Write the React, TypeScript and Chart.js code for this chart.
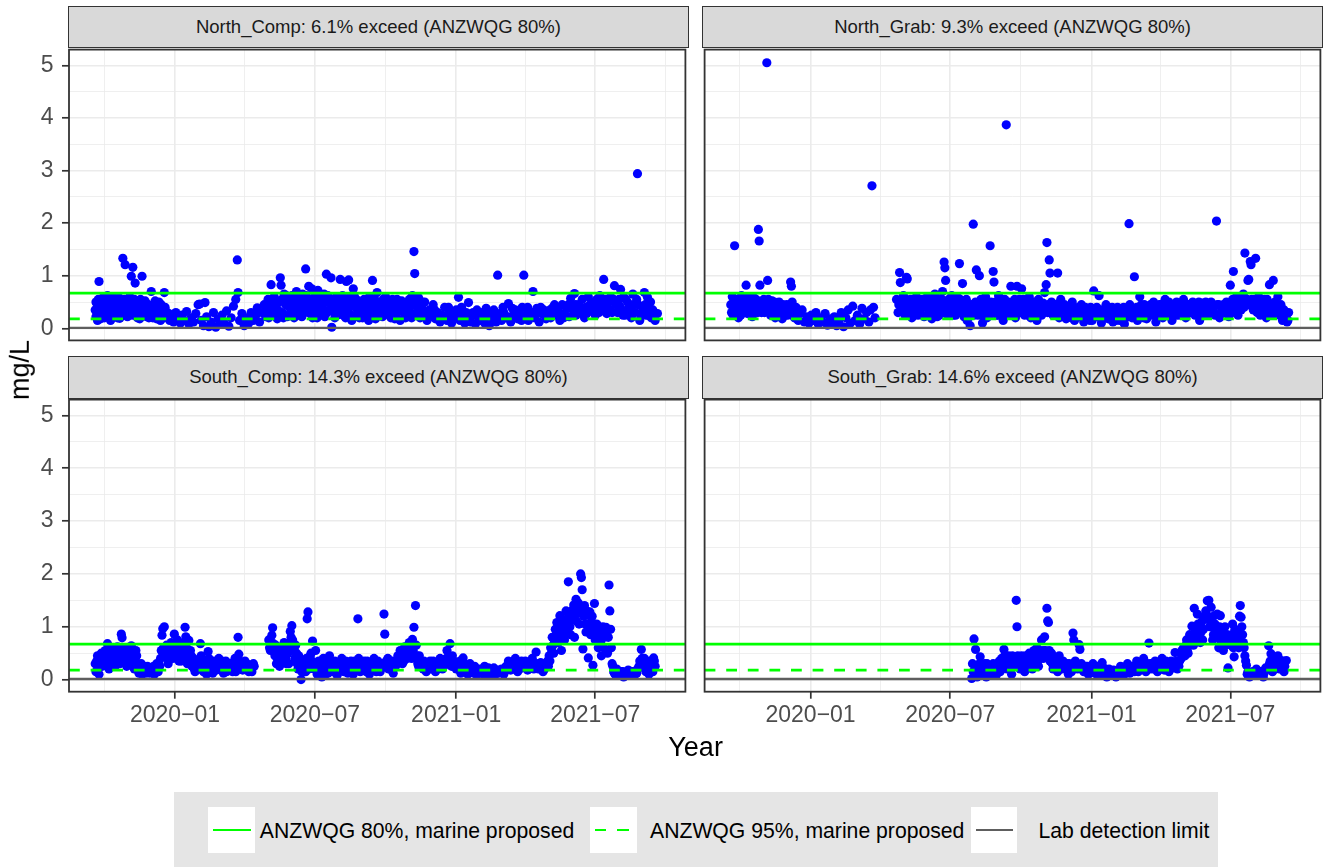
import React, { useEffect, useRef } from "react";
import { Chart, registerables } from "chart.js";

Chart.register(...registerables);

const FONT = '"Liberation Sans", Arial, Helvetica, sans-serif';

// ---------------- DATA ----------------
const panelTitles = [
  "North_Comp: 6.1% exceed (ANZWQG 80%)",
  "North_Grab: 9.3% exceed (ANZWQG 80%)",
  "South_Comp: 14.3% exceed (ANZWQG 80%)",
  "South_Grab: 14.6% exceed (ANZWQG 80%)",
];

const guideLabels = ["ANZWQG 80%, marine proposed", "ANZWQG 95%, marine proposed", "Lab detection limit"];
const guideValues = [0.67, 0.18, 0.01];

const xAxisRange = ["2019-08-15T21:36:00Z", "2021-10-26T09:36:00Z"];
const xMajorTicks = ["2020-01-01", "2020-07-01", "2021-01-01", "2021-07-01"];
const xMajorLabels = ["2020\u221201", "2020\u221207", "2021\u221201", "2021\u221207"];
const xMinorTicks = ["2019-10-01", "2020-04-01", "2020-10-01", "2021-04-01", "2021-10-01"];
const yAxisRange = [-0.23, 5.3];
const yMajorTicks = [0, 1, 2, 3, 4, 5];
const yMajorLabels = ["0", "1", "2", "3", "4", "5"];
const yMinorTicks = [0.5, 1.5, 2.5, 3.5, 4.5];

const northCompObs: [string, number][] = [
  ["2019-09-19",0.35],["2019-09-20",0.22],["2019-09-21",0.48],["2019-09-22",0.30],["2019-09-23",0.55],["2019-09-24",0.89],["2019-09-25",0.40],["2019-09-26",0.18],["2019-09-27",0.27],["2019-09-29",0.58],
  ["2019-10-01",0.20],["2019-10-03",0.45],["2019-10-05",0.62],["2019-10-07",0.33],["2019-10-09",0.15],["2019-10-11",0.50],["2019-10-13",0.38],["2019-10-15",0.26],["2019-10-17",0.55],["2019-10-19",0.42],["2019-10-21",0.19],["2019-10-23",0.35],["2019-10-25",1.33],["2019-10-26",0.48],["2019-10-28",1.21],["2019-10-29",0.30],["2019-10-31",0.22],
  ["2019-11-02",0.52],["2019-11-04",0.36],["2019-11-05",0.99],["2019-11-07",1.16],["2019-11-08",0.44],["2019-11-10",0.86],["2019-11-12",0.28],["2019-11-14",0.50],["2019-11-16",0.18],["2019-11-19",0.99],["2019-11-20",0.40],["2019-11-22",0.25],["2019-11-24",0.47],["2019-11-26",0.33],["2019-11-28",0.20],
  ["2019-12-01",0.70],["2019-12-02",0.42],["2019-12-04",0.30],["2019-12-06",0.52],["2019-12-08",0.18],["2019-12-10",0.38],["2019-12-12",0.25],["2019-12-14",0.45],["2019-12-16",0.35],["2019-12-18",0.68],["2019-12-20",0.22],["2019-12-22",0.30],["2019-12-25",0.15],["2019-12-28",0.26],["2019-12-30",0.12],
  ["2020-01-02",0.30],["2020-01-05",0.18],["2020-01-08",0.10],["2020-01-10",0.25],["2020-01-13",0.15],["2020-01-16",0.32],["2020-01-19",0.08],["2020-01-22",0.20],["2020-01-25",0.12],["2020-01-28",0.28],["2020-01-31",0.45],
  ["2020-02-02",0.46],["2020-02-04",0.15],["2020-02-07",0.05],["2020-02-09",0.49],["2020-02-11",0.22],["2020-02-14",0.03],["2020-02-17",0.12],["2020-02-20",0.30],["2020-02-23",0.02],["2020-02-26",0.18],["2020-02-28",0.08],
  ["2020-03-02",0.25],["2020-03-05",0.10],["2020-03-08",0.33],["2020-03-11",0.04],["2020-03-14",0.20],["2020-03-17",0.42],["2020-03-20",0.55],["2020-03-22",1.30],["2020-03-23",0.68],["2020-03-25",0.15],["2020-03-28",0.28],["2020-03-31",0.05],
  ["2020-04-03",0.20],["2020-04-06",0.10],["2020-04-09",0.30],["2020-04-12",0.15],["2020-04-15",0.25],["2020-04-17",0.39],["2020-04-20",0.12],["2020-04-23",0.30],["2020-04-26",0.45],["2020-04-28",0.22],
  ["2020-05-01",0.55],["2020-05-03",0.35],["2020-05-05",0.83],["2020-05-07",0.25],["2020-05-09",0.60],["2020-05-11",0.40],["2020-05-13",0.18],["2020-05-15",0.50],["2020-05-17",0.96],["2020-05-18",0.82],["2020-05-20",0.30],["2020-05-22",0.65],["2020-05-24",0.45],["2020-05-26",0.22],["2020-05-28",0.55],["2020-05-30",0.38],
  ["2020-06-01",0.62],["2020-06-03",0.30],["2020-06-05",0.48],["2020-06-07",0.70],["2020-06-09",0.25],["2020-06-11",0.55],["2020-06-13",0.40],["2020-06-15",0.65],["2020-06-17",0.35],["2020-06-19",1.13],["2020-06-21",0.50],["2020-06-23",0.80],["2020-06-25",0.28],["2020-06-27",0.75],["2020-06-29",0.45],
  ["2020-07-01",0.60],["2020-07-03",0.35],["2020-07-05",0.72],["2020-07-07",0.25],["2020-07-09",0.55],["2020-07-11",0.40],["2020-07-13",0.65],["2020-07-16",1.03],["2020-07-17",0.30],["2020-07-19",0.50],["2020-07-22",0.96],["2020-07-23",0.02],["2020-07-25",0.45],["2020-07-27",0.20],["2020-07-29",0.60],
  ["2020-08-01",0.35],["2020-08-03",0.93],["2020-08-05",0.55],["2020-08-07",0.25],["2020-08-09",0.45],["2020-08-11",0.89],["2020-08-13",0.30],["2020-08-14",0.92],["2020-08-16",0.60],["2020-08-18",0.15],["2020-08-20",0.75],["2020-08-21",0.63],["2020-08-23",0.40],["2020-08-25",0.28],["2020-08-27",0.50],["2020-08-30",0.35],
  ["2020-09-01",0.20],["2020-09-03",0.55],["2020-09-05",0.40],["2020-09-08",0.25],["2020-09-10",0.60],["2020-09-12",0.35],["2020-09-14",0.91],["2020-09-16",0.45],["2020-09-18",0.18],["2020-09-20",0.68],["2020-09-22",0.30],["2020-09-24",0.50],["2020-09-27",0.22],["2020-09-29",0.42],
  ["2020-10-01",0.60],["2020-10-03",0.30],["2020-10-05",0.48],["2020-10-08",0.20],["2020-10-10",0.55],["2020-10-12",0.35],["2020-10-15",0.25],["2020-10-17",0.45],["2020-10-20",0.15],["2020-10-22",0.52],["2020-10-25",0.30],["2020-10-28",0.40],["2020-10-30",0.22],
  ["2020-11-01",0.55],["2020-11-03",0.28],["2020-11-05",0.62],["2020-11-07",1.46],["2020-11-08",1.04],["2020-11-09",0.45],["2020-11-11",0.30],["2020-11-13",0.58],["2020-11-15",0.20],["2020-11-17",0.40],["2020-11-19",0.25],["2020-11-21",0.50],["2020-11-24",0.15],["2020-11-27",0.35],["2020-11-30",0.22],
  ["2020-12-02",0.45],["2020-12-05",0.18],["2020-12-08",0.30],["2020-12-11",0.12],["2020-12-14",0.25],["2020-12-17",0.40],["2020-12-20",0.15],["2020-12-23",0.30],["2020-12-26",0.10],["2020-12-29",0.22],
  ["2021-01-01",0.35],["2021-01-04",0.59],["2021-01-06",0.15],["2021-01-09",0.28],["2021-01-12",0.10],["2021-01-15",0.20],["2021-01-17",0.49],["2021-01-20",0.12],["2021-01-23",0.30],["2021-01-26",0.08],["2021-01-29",0.22],
  ["2021-02-01",0.15],["2021-02-04",0.30],["2021-02-07",0.10],["2021-02-10",0.25],["2021-02-13",0.05],["2021-02-16",0.20],["2021-02-19",0.35],["2021-02-22",0.12],["2021-02-24",1.01],["2021-02-26",0.28],
  ["2021-03-01",0.15],["2021-03-04",0.30],["2021-03-07",0.20],["2021-03-10",0.47],["2021-03-13",0.12],["2021-03-16",0.25],["2021-03-19",0.35],["2021-03-22",0.18],["2021-03-25",0.28],["2021-03-28",0.40],["2021-03-30",1.01],
  ["2021-04-02",0.25],["2021-04-05",0.15],["2021-04-11",0.70],["2021-04-10",0.30],["2021-04-13",0.20],["2021-04-16",0.38],["2021-04-19",0.12],["2021-04-22",0.28],["2021-04-25",0.35],["2021-04-28",0.18],
  ["2021-05-01",0.30],["2021-05-04",0.20],["2021-05-07",0.40],["2021-05-10",0.25],["2021-05-13",0.35],["2021-05-16",0.15],["2021-05-19",0.45],["2021-05-22",0.28],["2021-05-25",0.38],["2021-05-28",0.22],["2021-05-30",0.57],
  ["2021-06-02",0.35],["2021-06-04",0.66],["2021-06-06",0.25],["2021-06-09",0.45],["2021-06-11",0.30],["2021-06-14",0.55],["2021-06-17",0.20],["2021-06-19",0.40],["2021-06-22",0.60],["2021-06-25",0.33],["2021-06-28",0.50],
  ["2021-07-01",0.25],["2021-07-04",0.45],["2021-07-07",0.62],["2021-07-10",0.35],["2021-07-12",0.93],["2021-07-14",0.55],["2021-07-16",0.28],["2021-07-18",0.48],["2021-07-21",0.60],["2021-07-23",0.30],["2021-07-26",0.81],["2021-07-28",0.45],
  ["2021-08-01",0.55],["2021-08-03",0.74],["2021-08-05",0.35],["2021-08-07",0.60],["2021-08-09",0.25],["2021-08-12",0.50],["2021-08-14",0.40],["2021-08-17",0.20],["2021-08-19",0.65],["2021-08-22",0.30],["2021-08-25",2.94],["2021-08-26",0.45],["2021-08-28",0.15],
  ["2021-09-01",0.35],["2021-09-03",0.68],["2021-09-05",0.25],["2021-09-07",0.59],["2021-09-09",0.40],["2021-09-12",0.20],["2021-09-14",0.35],["2021-09-17",0.15],["2021-09-20",0.28],
  ["2019-09-20",0.50],["2019-09-22",0.15],["2019-09-28",0.42],["2019-09-30",0.30],["2019-10-02",0.55],["2019-10-04",0.28],["2019-10-06",0.40],["2019-10-08",0.52],["2019-10-10",0.25],["2019-10-12",0.60],["2019-10-14",0.45],["2019-10-16",0.30],["2019-10-18",0.20],["2019-10-20",0.58],["2019-10-22",0.40],["2019-10-24",0.25],["2019-10-27",0.55],["2019-10-30",0.42],
  ["2019-11-01",0.30],["2019-11-03",0.60],["2019-11-06",0.25],["2019-11-09",0.55],["2019-11-11",0.40],["2019-11-13",0.20],["2019-11-15",0.35],["2019-11-17",0.55],["2019-11-21",0.30],["2019-11-23",0.52],["2019-11-25",0.22],["2019-11-27",0.45],["2019-11-29",0.35],
  ["2019-12-03",0.20],["2019-12-05",0.45],["2019-12-07",0.35],["2019-12-09",0.25],["2019-12-11",0.50],["2019-12-13",0.15],["2019-12-15",0.30],["2019-12-17",0.20],["2019-12-19",0.40],
  ["2020-04-29",0.35],["2020-05-02",0.20],["2020-05-04",0.45],["2020-05-06",0.30],["2020-05-08",0.50],["2020-05-12",0.25],["2020-05-14",0.35],["2020-05-19",0.55],["2020-05-21",0.20],["2020-05-25",0.62],["2020-05-29",0.25],
  ["2020-06-02",0.45],["2020-06-04",0.20],["2020-06-08",0.55],["2020-06-10",0.35],["2020-06-12",0.62],["2020-06-14",0.22],["2020-06-16",0.50],["2020-06-18",0.30],["2020-06-20",0.62],["2020-06-22",0.40],["2020-06-24",0.55],["2020-06-26",0.35],["2020-06-28",0.20],["2020-06-30",0.50],
  ["2020-07-02",0.45],["2020-07-04",0.20],["2020-07-06",0.50],["2020-07-08",0.62],["2020-07-10",0.30],["2020-07-12",0.48],["2020-07-14",0.22],["2020-07-18",0.62],["2020-07-20",0.35],["2020-07-24",0.55],["2020-07-26",0.30],["2020-07-28",0.45],["2020-07-30",0.25],
  ["2020-08-02",0.50],["2020-08-04",0.30],["2020-08-06",0.62],["2020-08-08",0.40],["2020-08-10",0.20],["2020-08-12",0.55],["2020-08-15",0.40],["2020-08-17",0.25],["2020-08-19",0.50],["2020-08-22",0.22],["2020-08-24",0.55],["2020-08-26",0.40],["2020-08-28",0.20],
  ["2020-09-02",0.45],["2020-09-04",0.30],["2020-09-07",0.50],["2020-09-09",0.15],["2020-09-11",0.45],["2020-09-15",0.25],["2020-09-17",0.55],["2020-09-21",0.40],["2020-09-25",0.35],["2020-09-28",0.55],
  ["2020-10-02",0.40],["2020-10-06",0.25],["2020-10-09",0.42],["2020-10-13",0.18],["2020-10-16",0.55],["2020-10-19",0.35],["2020-10-24",0.45],["2020-10-27",0.20],
  ["2020-11-02",0.40],["2020-11-04",0.20],["2020-11-10",0.55],["2020-11-14",0.35],["2020-11-18",0.50],["2020-11-22",0.30],
  ["2020-12-04",0.35],["2020-12-10",0.25],["2020-12-16",0.20],["2020-12-22",0.40],["2020-12-28",0.30],
  ["2021-01-03",0.20],["2021-01-08",0.40],["2021-01-14",0.30],["2021-01-22",0.25],["2021-01-28",0.35],["2021-02-03",0.20],["2021-02-09",0.38],["2021-02-15",0.30],["2021-02-21",0.22],
  ["2021-03-03",0.40],["2021-03-09",0.22],["2021-03-15",0.38],["2021-03-21",0.30],["2021-03-27",0.15],["2021-04-04",0.40],["2021-04-09",0.25],["2021-04-15",0.30],["2021-04-21",0.40],["2021-04-27",0.25],
  ["2021-05-03",0.35],["2021-05-09",0.45],["2021-05-15",0.30],["2021-05-21",0.20],["2021-05-27",0.45],
  ["2021-06-05",0.45],["2021-06-12",0.40],["2021-06-20",0.28],["2021-06-24",0.45],["2021-06-29",0.38],["2021-07-03",0.55],["2021-07-06",0.30],["2021-07-09",0.50],["2021-07-15",0.40],["2021-07-20",0.35],["2021-07-25",0.55],["2021-07-30",0.30],
  ["2021-08-02",0.42],["2021-08-06",0.25],["2021-08-10",0.55],["2021-08-15",0.30],["2021-08-20",0.45],["2021-08-24",0.55],["2021-08-30",0.25],["2021-09-04",0.45],["2021-09-08",0.25],["2021-09-11",0.50],["2021-09-16",0.30],
];

const northGrabObs: [string, number][] = [
  ["2019-09-19",0.45],["2019-09-20",0.30],["2019-09-21",0.60],["2019-09-22",0.25],["2019-09-23",0.50],["2019-09-24",1.57],["2019-09-25",0.38],["2019-09-27",0.55],["2019-09-29",0.20],
  ["2019-10-01",0.45],["2019-10-03",0.62],["2019-10-05",0.30],["2019-10-07",0.50],["2019-10-09",0.82],["2019-10-11",0.28],["2019-10-13",0.55],["2019-10-15",0.40],["2019-10-17",0.22],["2019-10-19",0.58],["2019-10-21",0.35],["2019-10-23",0.48],["2019-10-25",1.88],["2019-10-26",1.66],["2019-10-27",0.82],["2019-10-29",0.30],
  ["2019-11-01",0.55],["2019-11-03",0.38],["2019-11-05",5.05],["2019-11-06",0.91],["2019-11-08",0.45],["2019-11-10",0.25],["2019-11-12",0.52],["2019-11-14",0.35],["2019-11-16",0.20],["2019-11-18",0.48],["2019-11-20",0.30],["2019-11-22",0.42],["2019-11-25",0.18],["2019-11-27",0.38],["2019-11-29",0.25],
  ["2019-12-01",0.45],["2019-12-03",0.30],["2019-12-06",0.88],["2019-12-07",0.80],["2019-12-09",0.35],["2019-12-11",0.20],["2019-12-13",0.40],["2019-12-16",0.15],["2019-12-18",0.28],["2019-12-21",0.35],["2019-12-24",0.12],["2019-12-27",0.22],["2019-12-30",0.10],
  ["2020-01-02",0.25],["2020-01-05",0.15],["2020-01-08",0.30],["2020-01-11",0.08],["2020-01-14",0.20],["2020-01-17",0.12],["2020-01-20",0.28],["2020-01-23",0.06],["2020-01-26",0.18],["2020-01-29",0.10],
  ["2020-02-01",0.22],["2020-02-04",0.05],["2020-02-07",0.15],["2020-02-10",0.30],["2020-02-13",0.03],["2020-02-16",0.20],["2020-02-19",0.35],["2020-02-22",0.10],["2020-02-25",0.42],["2020-02-28",0.15],
  ["2020-03-02",0.25],["2020-03-05",0.08],["2020-03-08",0.38],["2020-03-11",0.18],["2020-03-14",0.30],["2020-03-17",0.12],["2020-03-19",0.35],["2020-03-21",2.71],["2020-03-23",0.40],["2020-03-25",0.20],
  ["2020-04-22",0.55],["2020-04-24",0.30],["2020-04-26",1.06],["2020-04-27",0.87],["2020-04-29",0.45],
  ["2020-05-01",0.62],["2020-05-03",0.25],["2020-05-05",0.97],["2020-05-06",0.94],["2020-05-08",0.40],["2020-05-10",0.55],["2020-05-12",0.20],["2020-05-14",0.48],["2020-05-16",0.32],["2020-05-18",0.60],["2020-05-20",0.25],["2020-05-22",0.45],["2020-05-24",0.38],["2020-05-26",0.55],["2020-05-28",0.22],["2020-05-30",0.42],
  ["2020-06-01",0.60],["2020-06-03",0.30],["2020-06-05",0.50],["2020-06-07",0.18],["2020-06-09",0.45],["2020-06-11",0.65],["2020-06-13",0.35],["2020-06-15",0.55],["2020-06-17",0.25],["2020-06-19",0.48],["2020-06-21",0.70],["2020-06-23",1.26],["2020-06-24",1.15],["2020-06-25",0.91],["2020-06-27",0.40],["2020-06-29",0.55],
  ["2020-07-01",0.30],["2020-07-03",0.62],["2020-07-05",0.25],["2020-07-07",0.45],["2020-07-09",0.35],["2020-07-11",0.58],["2020-07-13",1.23],["2020-07-15",0.40],["2020-07-17",0.85],["2020-07-19",0.22],["2020-07-21",0.50],["2020-07-23",0.15],["2020-07-25",0.40],["2020-07-27",0.05],["2020-07-29",0.30],["2020-07-31",1.98],
  ["2020-08-02",0.45],["2020-08-04",1.11],["2020-08-06",0.25],["2020-08-08",1.00],["2020-08-10",0.55],["2020-08-12",0.10],["2020-08-14",0.38],["2020-08-16",0.60],["2020-08-18",0.20],["2020-08-20",0.45],["2020-08-22",1.57],["2020-08-24",0.35],["2020-08-26",1.08],["2020-08-27",0.88],["2020-08-29",0.50],["2020-08-31",0.25],
  ["2020-09-02",0.62],["2020-09-04",0.30],["2020-09-06",0.48],["2020-09-08",0.15],["2020-09-10",0.55],["2020-09-12",3.87],["2020-09-14",0.40],["2020-09-16",0.25],["2020-09-18",0.80],["2020-09-20",0.50],["2020-09-22",0.35],["2020-09-24",0.20],["2020-09-26",0.80],["2020-09-28",0.45],["2020-09-30",0.30],
  ["2020-10-02",0.75],["2020-10-04",0.55],["2020-10-06",0.25],["2020-10-08",0.45],["2020-10-10",0.35],["2020-10-12",0.60],["2020-10-14",0.20],["2020-10-16",0.50],["2020-10-18",0.30],["2020-10-20",0.42],["2020-10-22",0.15],["2020-10-24",0.55],["2020-10-26",0.35],["2020-10-28",0.25],["2020-10-30",0.48],
  ["2020-11-01",0.68],["2020-11-03",0.83],["2020-11-04",1.63],["2020-11-05",0.30],["2020-11-07",1.30],["2020-11-08",1.05],["2020-11-10",0.50],["2020-11-12",0.25],["2020-11-14",0.45],["2020-11-16",0.35],["2020-11-18",1.05],["2020-11-20",0.20],["2020-11-22",0.55],["2020-11-24",0.30],["2020-11-27",0.45],["2020-11-29",0.18],
  ["2020-12-01",0.40],["2020-12-04",0.25],["2020-12-07",0.50],["2020-12-10",0.15],["2020-12-13",0.35],["2020-12-16",0.22],["2020-12-19",0.45],["2020-12-22",0.12],["2020-12-25",0.30],["2020-12-28",0.20],["2020-12-31",0.40],
  ["2021-01-02",0.15],["2021-01-04",0.71],["2021-01-06",0.35],["2021-01-09",0.22],["2021-01-11",0.62],["2021-01-14",0.10],["2021-01-17",0.30],["2021-01-20",0.45],["2021-01-23",0.18],["2021-01-26",0.35],["2021-01-29",0.12],
  ["2021-02-01",0.28],["2021-02-04",0.40],["2021-02-07",0.15],["2021-02-10",0.33],["2021-02-13",0.08],["2021-02-16",0.25],["2021-02-19",1.99],["2021-02-20",0.45],["2021-02-23",0.20],["2021-02-26",0.98],["2021-02-28",0.35],
  ["2021-03-02",0.15],["2021-03-05",0.60],["2021-03-08",0.30],["2021-03-11",0.45],["2021-03-14",0.18],["2021-03-17",0.38],["2021-03-20",0.25],["2021-03-23",0.50],["2021-03-26",0.12],["2021-03-29",0.35],
  ["2021-04-01",0.45],["2021-04-04",0.20],["2021-04-07",0.55],["2021-04-10",0.30],["2021-04-13",0.42],["2021-04-16",0.15],["2021-04-19",0.35],["2021-04-22",0.50],["2021-04-25",0.25],["2021-04-28",0.40],
  ["2021-05-01",0.55],["2021-05-04",0.20],["2021-05-07",0.45],["2021-05-10",0.30],["2021-05-13",0.50],["2021-05-16",0.25],["2021-05-19",0.40],["2021-05-22",0.15],["2021-05-25",0.48],["2021-05-28",0.30],["2021-05-31",0.45],
  ["2021-06-03",0.25],["2021-06-06",0.50],["2021-06-09",0.35],["2021-06-13",2.04],["2021-06-14",0.45],["2021-06-17",0.20],["2021-06-20",0.40],["2021-06-23",0.30],["2021-06-26",0.50],["2021-06-29",0.22],
  ["2021-07-01",0.82],["2021-07-03",0.45],["2021-07-05",1.08],["2021-07-07",0.30],["2021-07-09",0.60],["2021-07-11",0.25],["2021-07-13",0.50],["2021-07-15",0.35],["2021-07-18",0.65],["2021-07-20",1.43],["2021-07-22",0.45],["2021-07-24",0.91],["2021-07-25",0.93],["2021-07-27",1.27],["2021-07-28",1.21],["2021-07-30",0.40],
  ["2021-08-01",0.55],["2021-08-03",1.33],["2021-08-05",0.30],["2021-08-07",0.60],["2021-08-09",0.25],["2021-08-11",0.45],["2021-08-13",0.35],["2021-08-15",0.55],["2021-08-17",0.20],["2021-08-19",0.40],["2021-08-21",0.83],["2021-08-24",0.30],["2021-08-26",0.91],["2021-08-28",0.50],
  ["2021-09-01",0.60],["2021-09-03",0.25],["2021-09-05",0.45],["2021-09-07",0.15],["2021-09-09",0.35],["2021-09-11",0.20],["2021-09-13",0.12],["2021-09-15",0.30],
  ["2019-09-26",0.45],["2019-09-28",0.35],["2019-09-30",0.55],["2019-10-02",0.25],["2019-10-04",0.48],["2019-10-06",0.55],["2019-10-08",0.35],["2019-10-10",0.45],["2019-10-12",0.60],["2019-10-14",0.30],["2019-10-16",0.50],["2019-10-18",0.35],["2019-10-20",0.45],["2019-10-22",0.55],["2019-10-24",0.30],["2019-10-28",0.50],["2019-10-30",0.40],
  ["2019-11-02",0.30],["2019-11-04",0.50],["2019-11-07",0.55],["2019-11-09",0.35],["2019-11-11",0.45],["2019-11-13",0.25],["2019-11-15",0.50],["2019-11-17",0.35],["2019-11-19",0.25],["2019-11-21",0.50],["2019-11-23",0.30],["2019-11-26",0.45],["2019-11-28",0.30],
  ["2019-12-02",0.25],["2019-12-04",0.40],["2019-12-08",0.50],["2019-12-10",0.30],["2019-12-12",0.20],["2019-12-14",0.30],
  ["2020-04-25",0.45],["2020-04-28",0.35],["2020-04-30",0.50],["2020-05-02",0.40],["2020-05-04",0.55],["2020-05-07",0.30],["2020-05-09",0.50],["2020-05-11",0.35],["2020-05-13",0.55],["2020-05-15",0.25],["2020-05-17",0.45],["2020-05-19",0.35],["2020-05-21",0.55],["2020-05-23",0.30],["2020-05-25",0.50],["2020-05-27",0.40],["2020-05-29",0.55],
  ["2020-06-02",0.45],["2020-06-04",0.25],["2020-06-06",0.55],["2020-06-08",0.35],["2020-06-10",0.30],["2020-06-12",0.50],["2020-06-14",0.22],["2020-06-16",0.45],["2020-06-18",0.35],["2020-06-20",0.55],["2020-06-22",0.30],["2020-06-26",0.50],["2020-06-28",0.25],["2020-06-30",0.45],
  ["2020-07-02",0.50],["2020-07-04",0.35],["2020-07-06",0.55],["2020-07-08",0.25],["2020-07-10",0.45],["2020-07-12",0.30],["2020-07-14",0.55],["2020-07-16",0.30],["2020-07-18",0.45],["2020-07-20",0.35],["2020-07-22",0.55],["2020-07-24",0.30],["2020-07-26",0.22],["2020-07-28",0.45],["2020-07-30",0.35],
  ["2020-08-01",0.25],["2020-08-03",0.50],["2020-08-05",0.40],["2020-08-07",0.30],["2020-08-09",0.45],["2020-08-11",0.25],["2020-08-13",0.50],["2020-08-15",0.30],["2020-08-17",0.45],["2020-08-19",0.35],["2020-08-21",0.25],["2020-08-23",0.50],["2020-08-25",0.30],["2020-08-28",0.40],["2020-08-30",0.35],
  ["2020-09-01",0.25],["2020-09-03",0.45],["2020-09-05",0.35],["2020-09-07",0.55],["2020-09-09",0.30],["2020-09-11",0.40],["2020-09-13",0.25],["2020-09-15",0.50],["2020-09-17",0.35],["2020-09-19",0.30],["2020-09-21",0.45],["2020-09-23",0.55],["2020-09-25",0.30],["2020-09-27",0.40],["2020-09-29",0.55],
  ["2020-10-01",0.40],["2020-10-03",0.30],["2020-10-05",0.45],["2020-10-07",0.35],["2020-10-09",0.50],["2020-10-11",0.25],["2020-10-13",0.40],["2020-10-15",0.35],["2020-10-17",0.25],["2020-10-19",0.50],["2020-10-21",0.30],["2020-10-23",0.40],["2020-10-25",0.25],["2020-10-27",0.45],["2020-10-29",0.35],["2020-10-31",0.30],
  ["2020-11-02",0.40],["2020-11-06",0.45],["2020-11-09",0.35],["2020-11-11",0.45],["2020-11-13",0.35],["2020-11-15",0.25],["2020-11-17",0.45],["2020-11-19",0.35],["2020-11-21",0.30],["2020-11-23",0.40],["2020-11-26",0.25],["2020-11-28",0.35],
  ["2020-12-03",0.30],["2020-12-06",0.20],["2020-12-09",0.35],["2020-12-12",0.25],["2020-12-15",0.40],["2020-12-18",0.30],["2020-12-21",0.25],["2020-12-24",0.40],["2020-12-27",0.30],["2020-12-30",0.15],
  ["2021-01-05",0.30],["2021-01-08",0.40],["2021-01-12",0.25],["2021-01-15",0.35],["2021-01-19",0.25],["2021-01-22",0.30],["2021-01-25",0.20],["2021-01-28",0.40],
  ["2021-02-02",0.15],["2021-02-06",0.35],["2021-02-09",0.25],["2021-02-12",0.40],["2021-02-15",0.20],["2021-02-18",0.30],["2021-02-22",0.35],["2021-02-25",0.25],
  ["2021-03-01",0.40],["2021-03-04",0.25],["2021-03-07",0.45],["2021-03-10",0.20],["2021-03-13",0.35],["2021-03-16",0.25],["2021-03-19",0.45],["2021-03-22",0.30],["2021-03-25",0.40],["2021-03-28",0.22],["2021-03-31",0.45],
  ["2021-04-03",0.35],["2021-04-06",0.45],["2021-04-09",0.25],["2021-04-12",0.50],["2021-04-15",0.30],["2021-04-18",0.45],["2021-04-21",0.25],["2021-04-24",0.40],["2021-04-27",0.30],["2021-04-30",0.50],
  ["2021-05-03",0.35],["2021-05-06",0.30],["2021-05-09",0.45],["2021-05-12",0.35],["2021-05-15",0.45],["2021-05-18",0.30],["2021-05-21",0.50],["2021-05-24",0.35],["2021-05-27",0.25],["2021-05-30",0.50],
  ["2021-06-02",0.40],["2021-06-05",0.30],["2021-06-08",0.45],["2021-06-11",0.25],["2021-06-16",0.45],["2021-06-19",0.30],["2021-06-22",0.45],["2021-06-25",0.30],["2021-06-28",0.45],
  ["2021-07-02",0.30],["2021-07-04",0.55],["2021-07-06",0.40],["2021-07-08",0.50],["2021-07-10",0.35],["2021-07-12",0.55],["2021-07-14",0.45],["2021-07-16",0.55],["2021-07-19",0.40],["2021-07-23",0.55],["2021-07-26",0.45],["2021-07-29",0.55],["2021-07-31",0.35],
  ["2021-08-02",0.45],["2021-08-04",0.55],["2021-08-06",0.45],["2021-08-08",0.35],["2021-08-10",0.55],["2021-08-12",0.30],["2021-08-14",0.45],["2021-08-16",0.30],["2021-08-18",0.55],["2021-08-20",0.35],["2021-08-23",0.45],["2021-08-25",0.25],["2021-08-27",0.40],["2021-08-30",0.30],
  ["2021-09-02",0.40],["2021-09-04",0.30],["2021-09-06",0.25],["2021-09-08",0.35],["2021-09-10",0.25],["2021-09-12",0.20],["2021-09-14",0.15],
];

const southCompObs: [string, number][] = [
  ["2019-09-19",0.30],["2019-09-20",0.15],["2019-09-21",0.35],["2019-09-23",0.22],["2019-09-24",0.10],["2019-09-26",0.40],["2019-09-28",0.25],
  ["2019-10-01",0.45],["2019-10-03",0.30],["2019-10-05",0.68],["2019-10-07",0.20],["2019-10-09",0.50],["2019-10-11",0.35],["2019-10-13",0.58],["2019-10-15",0.25],["2019-10-17",0.45],["2019-10-19",0.55],["2019-10-21",0.30],["2019-10-23",0.86],["2019-10-24",0.79],["2019-10-26",0.40],["2019-10-28",0.60],["2019-10-30",0.25],
  ["2019-11-01",0.50],["2019-11-03",0.35],["2019-11-05",0.64],["2019-11-07",0.45],["2019-11-09",0.20],["2019-11-11",0.55],["2019-11-13",0.30],["2019-11-15",0.12],["2019-11-17",0.25],["2019-11-19",0.10],["2019-11-21",0.20],["2019-11-23",0.15],["2019-11-26",0.25],["2019-11-29",0.12],
  ["2019-12-02",0.20],["2019-12-05",0.10],["2019-12-08",0.30],["2019-12-10",0.15],["2019-12-12",0.25],["2019-12-14",0.55],["2019-12-15",0.84],["2019-12-16",0.96],["2019-12-18",1.00],["2019-12-19",0.45],["2019-12-21",0.65],["2019-12-23",0.30],["2019-12-25",0.50],["2019-12-27",0.70],["2019-12-29",0.40],["2019-12-31",0.86],
  ["2020-01-02",0.55],["2020-01-04",0.75],["2020-01-06",0.35],["2020-01-08",0.62],["2020-01-10",0.45],["2020-01-12",0.70],["2020-01-14",0.99],["2020-01-15",0.81],["2020-01-17",0.30],["2020-01-19",0.74],["2020-01-21",0.55],["2020-01-23",0.25],["2020-01-25",0.40],["2020-01-27",0.15],["2020-01-29",0.30],
  ["2020-02-01",0.20],["2020-02-03",0.68],["2020-02-05",0.35],["2020-02-07",0.15],["2020-02-09",0.28],["2020-02-11",0.10],["2020-02-13",0.53],["2020-02-15",0.22],["2020-02-17",0.35],["2020-02-19",0.12],["2020-02-21",0.30],["2020-02-24",0.18],["2020-02-27",0.40],
  ["2020-03-01",0.25],["2020-03-04",0.12],["2020-03-07",0.35],["2020-03-10",0.20],["2020-03-13",0.30],["2020-03-16",0.15],["2020-03-19",0.40],["2020-03-21",0.25],["2020-03-23",0.80],["2020-03-24",0.48],["2020-03-26",0.30],["2020-03-29",0.18],
  ["2020-04-01",0.35],["2020-04-04",0.20],["2020-04-07",0.28],["2020-04-10",0.15],["2020-04-13",0.25],
  ["2020-05-02",0.75],["2020-05-04",0.55],["2020-05-06",0.84],["2020-05-07",0.98],["2020-05-08",0.68],["2020-05-10",0.45],["2020-05-12",0.30],["2020-05-14",0.60],["2020-05-16",0.25],["2020-05-18",0.50],["2020-05-20",0.35],["2020-05-22",0.70],["2020-05-24",0.40],["2020-05-26",0.62],["2020-05-28",0.30],["2020-05-30",0.91],
  ["2020-06-01",1.02],["2020-06-02",0.75],["2020-06-04",0.55],["2020-06-06",0.65],["2020-06-08",0.30],["2020-06-10",0.45],["2020-06-12",0.25],["2020-06-13",0.00],["2020-06-15",0.20],["2020-06-17",0.35],["2020-06-19",0.15],["2020-06-21",1.15],["2020-06-22",1.28],["2020-06-24",0.30],["2020-06-26",0.50],["2020-06-28",0.73],["2020-06-30",0.20],
  ["2020-07-02",0.55],["2020-07-04",0.10],["2020-07-06",0.35],["2020-07-08",0.25],["2020-07-10",0.05],["2020-07-12",0.40],["2020-07-14",0.20],["2020-07-16",0.30],["2020-07-18",0.12],["2020-07-20",0.45],["2020-07-22",0.25],["2020-07-24",0.15],["2020-07-27",0.35],["2020-07-30",0.08],
  ["2020-08-02",0.25],["2020-08-05",0.40],["2020-08-08",0.15],["2020-08-11",0.30],["2020-08-14",0.20],["2020-08-17",0.35],["2020-08-20",0.10],["2020-08-23",0.28],["2020-08-26",1.15],["2020-08-27",0.40],["2020-08-29",0.15],
  ["2020-09-01",0.30],["2020-09-04",0.20],["2020-09-07",0.35],["2020-09-10",0.10],["2020-09-13",0.25],["2020-09-16",0.40],["2020-09-19",0.15],["2020-09-22",0.30],["2020-09-25",0.20],["2020-09-29",1.24],["2020-09-30",0.86],
  ["2020-10-02",0.35],["2020-10-05",0.20],["2020-10-08",0.30],["2020-10-11",0.12],["2020-10-14",0.25],["2020-10-17",0.45],["2020-10-20",0.55],["2020-10-23",0.30],["2020-10-26",0.62],["2020-10-29",0.40],
  ["2020-11-01",0.70],["2020-11-03",0.50],["2020-11-05",0.76],["2020-11-07",0.99],["2020-11-09",1.40],["2020-11-10",0.65],["2020-11-12",0.30],["2020-11-14",0.45],["2020-11-17",0.25],["2020-11-20",0.35],["2020-11-23",0.15],["2020-11-26",0.30],["2020-11-29",0.20],
  ["2020-12-02",0.35],["2020-12-05",0.15],["2020-12-08",0.28],["2020-12-11",0.40],["2020-12-14",0.20],["2020-12-17",0.30],["2020-12-20",0.55],["2020-12-22",0.40],["2020-12-24",0.68],["2020-12-26",0.25],["2020-12-29",0.35],
  ["2021-01-01",0.20],["2021-01-04",0.30],["2021-01-07",0.12],["2021-01-10",0.41],["2021-01-13",0.22],["2021-01-16",0.10],["2021-01-19",0.30],["2021-01-22",0.15],["2021-01-25",0.25],["2021-01-28",0.08],
  ["2021-02-01",0.20],["2021-02-04",0.12],["2021-02-07",0.25],["2021-02-10",0.08],["2021-02-13",0.18],["2021-02-16",0.10],["2021-02-19",0.22],["2021-02-22",0.15],["2021-02-25",0.12],
  ["2021-03-01",0.20],["2021-03-04",0.10],["2021-03-07",0.25],["2021-03-10",0.35],["2021-03-13",0.18],["2021-03-16",0.28],["2021-03-19",0.40],["2021-03-22",0.15],["2021-03-25",0.30],["2021-03-28",0.22],
  ["2021-04-01",0.35],["2021-04-04",0.18],["2021-04-07",0.28],["2021-04-10",0.40],["2021-04-13",0.25],["2021-04-15",0.52],["2021-04-18",0.20],["2021-04-21",0.32],["2021-04-24",0.15],["2021-04-27",0.25],["2021-04-30",0.35],
  ["2021-05-02",0.45],["2021-05-04",0.60],["2021-05-06",0.80],["2021-05-08",0.50],["2021-05-10",0.95],["2021-05-12",1.08],["2021-05-14",0.70],["2021-05-16",1.21],["2021-05-18",0.55],["2021-05-20",1.00],["2021-05-22",0.75],["2021-05-24",1.30],["2021-05-27",1.85],["2021-05-28",1.10],["2021-05-30",0.85],
  ["2021-06-01",1.19],["2021-06-03",1.41],["2021-06-04",0.80],["2021-06-06",1.52],["2021-06-08",1.25],["2021-06-10",1.05],["2021-06-12",2.00],["2021-06-13",1.93],["2021-06-14",1.70],["2021-06-15",0.58],["2021-06-17",1.40],["2021-06-19",0.90],["2021-06-21",1.22],["2021-06-22",0.41],["2021-06-24",1.28],["2021-06-26",1.10],["2021-06-28",0.27],["2021-06-30",1.44],
  ["2021-07-01",0.75],["2021-07-03",1.05],["2021-07-05",0.60],["2021-07-07",0.95],["2021-07-09",0.45],["2021-07-11",1.00],["2021-07-13",0.80],["2021-07-15",0.99],["2021-07-17",0.50],["2021-07-19",1.79],["2021-07-20",1.30],["2021-07-21",0.95],["2021-07-23",0.30],["2021-07-25",0.15],["2021-07-27",0.10],["2021-07-29",0.20],
  ["2021-08-01",0.08],["2021-08-04",0.15],["2021-08-07",0.05],["2021-08-10",0.12],["2021-08-13",0.18],["2021-08-16",0.08],["2021-08-19",0.15],["2021-08-22",0.10],["2021-08-25",0.20],["2021-08-28",0.35],["2021-08-30",0.57],
  ["2021-09-01",0.25],["2021-09-03",0.40],["2021-09-05",0.15],["2021-09-07",0.30],["2021-09-09",0.10],["2021-09-11",0.35],["2021-09-13",0.20],["2021-09-15",0.41],["2021-09-17",0.25],
  ["2019-09-22",0.45],["2019-09-25",0.30],["2019-09-27",0.50],["2019-09-30",0.35],["2019-10-02",0.55],["2019-10-04",0.40],["2019-10-06",0.30],["2019-10-08",0.60],["2019-10-10",0.40],["2019-10-12",0.30],["2019-10-14",0.50],["2019-10-16",0.35],["2019-10-18",0.62],["2019-10-20",0.45],["2019-10-22",0.55],["2019-10-25",0.60],["2019-10-27",0.50],["2019-10-29",0.35],["2019-10-31",0.55],
  ["2019-11-02",0.40],["2019-11-04",0.55],["2019-11-06",0.30],["2019-11-08",0.50],["2019-11-10",0.38],["2019-11-12",0.45],["2019-11-14",0.25],["2019-11-16",0.18],["2019-11-18",0.30],["2019-11-20",0.15],["2019-11-22",0.25],["2019-11-24",0.12],["2019-11-28",0.20],
  ["2019-12-01",0.15],["2019-12-04",0.25],["2019-12-07",0.20],["2019-12-11",0.30],["2019-12-13",0.40],["2019-12-17",0.60],["2019-12-20",0.55],["2019-12-22",0.40],["2019-12-24",0.60],["2019-12-26",0.45],["2019-12-28",0.55],["2019-12-30",0.65],
  ["2020-01-01",0.70],["2020-01-03",0.45],["2020-01-05",0.60],["2020-01-07",0.50],["2020-01-09",0.35],["2020-01-11",0.55],["2020-01-13",0.40],["2020-01-16",0.60],["2020-01-18",0.45],["2020-01-20",0.35],["2020-01-22",0.45],["2020-01-24",0.30],["2020-01-26",0.20],["2020-01-28",0.35],["2020-01-31",0.25],
  ["2020-02-02",0.30],["2020-02-04",0.45],["2020-02-06",0.25],["2020-02-08",0.35],["2020-02-10",0.20],["2020-02-12",0.30],["2020-02-14",0.40],["2020-02-16",0.15],["2020-02-18",0.25],["2020-02-20",0.35],["2020-02-22",0.20],["2020-02-25",0.30],
  ["2020-03-02",0.35],["2020-03-05",0.25],["2020-03-08",0.15],["2020-03-11",0.30],["2020-03-14",0.20],["2020-03-17",0.30],["2020-03-20",0.15],["2020-03-25",0.35],["2020-03-28",0.25],["2020-03-31",0.20],["2020-04-03",0.30],["2020-04-06",0.15],["2020-04-09",0.25],["2020-04-12",0.30],
  ["2020-05-03",0.60],["2020-05-05",0.70],["2020-05-09",0.55],["2020-05-11",0.65],["2020-05-13",0.40],["2020-05-15",0.50],["2020-05-17",0.35],["2020-05-19",0.62],["2020-05-21",0.45],["2020-05-23",0.55],["2020-05-25",0.30],["2020-05-27",0.50],["2020-05-29",0.70],["2020-05-31",0.80],
  ["2020-06-03",0.60],["2020-06-05",0.40],["2020-06-07",0.50],["2020-06-09",0.20],["2020-06-11",0.35],["2020-06-14",0.15],["2020-06-16",0.30],["2020-06-18",0.25],["2020-06-20",0.40],["2020-06-23",0.20],["2020-06-25",0.45],["2020-06-27",0.35],["2020-06-29",0.25],
  ["2020-07-01",0.30],["2020-07-03",0.20],["2020-07-05",0.28],["2020-07-07",0.15],["2020-07-09",0.35],["2020-07-11",0.20],["2020-07-13",0.30],["2020-07-15",0.10],["2020-07-17",0.25],["2020-07-19",0.35],["2020-07-21",0.15],["2020-07-23",0.30],["2020-07-26",0.20],["2020-07-28",0.25],
  ["2020-08-01",0.15],["2020-08-04",0.30],["2020-08-07",0.22],["2020-08-10",0.35],["2020-08-13",0.12],["2020-08-16",0.28],["2020-08-19",0.20],["2020-08-22",0.35],["2020-08-25",0.20],["2020-08-31",0.25],
  ["2020-09-03",0.35],["2020-09-06",0.15],["2020-09-09",0.30],["2020-09-12",0.20],["2020-09-15",0.30],["2020-09-18",0.25],["2020-09-21",0.35],["2020-09-24",0.15],["2020-09-27",0.30],
  ["2020-10-01",0.25],["2020-10-04",0.40],["2020-10-07",0.20],["2020-10-10",0.35],["2020-10-13",0.25],["2020-10-16",0.30],["2020-10-19",0.40],["2020-10-22",0.45],["2020-10-25",0.35],["2020-10-28",0.55],["2020-10-31",0.45],
  ["2020-11-02",0.60],["2020-11-04",0.40],["2020-11-06",0.55],["2020-11-08",0.65],["2020-11-11",0.45],["2020-11-13",0.25],["2020-11-16",0.35],["2020-11-19",0.20],["2020-11-22",0.30],["2020-11-25",0.25],["2020-11-28",0.35],
  ["2020-12-01",0.25],["2020-12-04",0.30],["2020-12-07",0.20],["2020-12-10",0.30],["2020-12-13",0.35],["2020-12-16",0.25],["2020-12-19",0.40],["2020-12-23",0.30],["2020-12-27",0.45],["2020-12-30",0.30],
  ["2021-01-03",0.25],["2021-01-06",0.35],["2021-01-09",0.20],["2021-01-12",0.30],["2021-01-15",0.25],["2021-01-18",0.15],["2021-01-21",0.25],["2021-01-24",0.12],["2021-01-27",0.20],["2021-01-30",0.15],
  ["2021-02-03",0.18],["2021-02-06",0.10],["2021-02-09",0.15],["2021-02-12",0.22],["2021-02-15",0.12],["2021-02-18",0.15],["2021-02-21",0.10],["2021-02-24",0.18],["2021-02-27",0.15],
  ["2021-03-03",0.15],["2021-03-06",0.20],["2021-03-09",0.25],["2021-03-12",0.22],["2021-03-15",0.30],["2021-03-18",0.25],["2021-03-21",0.32],["2021-03-24",0.20],["2021-03-27",0.35],["2021-03-30",0.25],
  ["2021-04-03",0.30],["2021-04-06",0.22],["2021-04-09",0.35],["2021-04-12",0.20],["2021-04-16",0.30],["2021-04-20",0.25],["2021-04-23",0.30],["2021-04-26",0.20],["2021-04-29",0.30],
  ["2021-05-01",0.25],["2021-05-03",0.35],["2021-05-05",0.50],["2021-05-07",0.65],["2021-05-09",0.70],["2021-05-11",0.85],["2021-05-13",0.90],["2021-05-15",0.80],["2021-05-17",1.00],["2021-05-19",0.85],["2021-05-21",1.10],["2021-05-23",0.90],["2021-05-25",1.15],["2021-05-29",1.00],["2021-05-31",1.30],
  ["2021-06-02",1.25],["2021-06-05",1.35],["2021-06-07",1.10],["2021-06-09",1.45],["2021-06-11",1.30],["2021-06-16",1.20],["2021-06-18",1.05],["2021-06-20",1.30],["2021-06-23",1.00],["2021-06-25",0.85],["2021-06-27",1.20],["2021-06-29",0.95],
  ["2021-07-02",0.90],["2021-07-04",0.80],["2021-07-06",1.00],["2021-07-08",0.70],["2021-07-10",0.90],["2021-07-12",0.60],["2021-07-14",0.85],["2021-07-16",0.95],["2021-07-18",0.80],["2021-07-22",0.60],["2021-07-24",0.25],["2021-07-26",0.12],["2021-07-28",0.08],["2021-07-31",0.12],
  ["2021-08-03",0.10],["2021-08-06",0.15],["2021-08-09",0.08],["2021-08-12",0.12],["2021-08-15",0.15],["2021-08-18",0.10],["2021-08-21",0.15],["2021-08-24",0.12],["2021-08-27",0.25],["2021-08-31",0.40],
  ["2021-09-02",0.30],["2021-09-04",0.20],["2021-09-06",0.35],["2021-09-08",0.25],["2021-09-10",0.20],["2021-09-12",0.30],["2021-09-14",0.15],["2021-09-16",0.35],
];

const southGrabObs: [string, number][] = [
  ["2020-07-29",0.02],["2020-07-30",0.30],
  ["2020-08-01",0.77],["2020-08-02",0.15],["2020-08-03",0.57],["2020-08-05",0.05],["2020-08-07",0.25],["2020-08-09",0.43],["2020-08-11",0.10],["2020-08-13",0.20],["2020-08-15",0.30],["2020-08-17",0.05],["2020-08-19",0.15],["2020-08-21",0.25],["2020-08-24",0.10],["2020-08-27",0.20],["2020-08-30",0.08],
  ["2020-09-02",0.30],["2020-09-04",0.15],["2020-09-07",0.25],["2020-09-09",0.57],["2020-09-11",0.35],["2020-09-13",0.20],["2020-09-15",0.45],["2020-09-17",0.30],["2020-09-19",0.10],["2020-09-21",0.40],["2020-09-23",0.25],["2020-09-25",1.50],["2020-09-26",1.00],["2020-09-28",0.35],["2020-09-30",0.20],
  ["2020-10-02",0.45],["2020-10-04",0.30],["2020-10-06",0.15],["2020-10-08",0.40],["2020-10-10",0.25],["2020-10-12",0.50],["2020-10-14",0.35],["2020-10-16",0.20],["2020-10-18",0.55],["2020-10-20",0.30],["2020-10-22",0.60],["2020-10-24",0.25],["2020-10-26",0.45],["2020-10-28",0.75],["2020-10-30",0.40],
  ["2020-11-01",0.81],["2020-11-02",0.55],["2020-11-04",1.35],["2020-11-05",1.11],["2020-11-06",1.08],["2020-11-08",0.35],["2020-11-10",0.50],["2020-11-12",0.20],["2020-11-14",0.40],["2020-11-16",0.30],["2020-11-18",0.15],["2020-11-20",0.45],["2020-11-22",0.25],["2020-11-25",0.35],["2020-11-28",0.20],["2020-11-30",0.30],
  ["2020-12-02",0.10],["2020-12-05",0.25],["2020-12-08",0.88],["2020-12-09",0.75],["2020-12-11",0.35],["2020-12-14",0.20],["2020-12-16",0.66],["2020-12-17",0.57],["2020-12-19",0.30],["2020-12-22",0.15],["2020-12-25",0.25],["2020-12-28",0.10],["2020-12-31",0.20],
  ["2021-01-03",0.30],["2021-01-06",0.12],["2021-01-09",0.25],["2021-01-12",0.08],["2021-01-15",0.32],["2021-01-18",0.15],["2021-01-21",0.05],["2021-01-24",0.20],["2021-01-27",0.10],["2021-01-30",0.18],
  ["2021-02-02",0.05],["2021-02-05",0.15],["2021-02-08",0.25],["2021-02-11",0.10],["2021-02-14",0.20],["2021-02-17",0.30],["2021-02-20",0.12],["2021-02-23",0.25],["2021-02-26",0.15],
  ["2021-03-01",0.35],["2021-03-04",0.20],["2021-03-07",0.28],["2021-03-10",0.40],["2021-03-13",0.15],["2021-03-17",0.69],["2021-03-19",0.30],["2021-03-22",0.20],["2021-03-25",0.35],["2021-03-28",0.15],["2021-03-31",0.25],
  ["2021-04-03",0.40],["2021-04-06",0.18],["2021-04-09",0.30],["2021-04-12",0.15],["2021-04-15",0.35],["2021-04-18",0.25],["2021-04-20",0.51],["2021-04-23",0.20],["2021-04-26",0.35],["2021-04-29",0.55],
  ["2021-05-01",0.60],["2021-05-03",0.45],["2021-05-05",0.75],["2021-05-07",0.50],["2021-05-09",0.85],["2021-05-12",1.01],["2021-05-14",0.65],["2021-05-15",1.35],["2021-05-17",0.80],["2021-05-19",1.24],["2021-05-21",0.90],["2021-05-23",0.70],["2021-05-25",1.10],["2021-05-27",0.95],
  ["2021-06-01",1.49],["2021-06-03",1.50],["2021-06-04",1.00],["2021-06-06",1.37],["2021-06-08",0.75],["2021-06-10",1.21],["2021-06-12",0.93],["2021-06-14",1.24],["2021-06-16",0.60],["2021-06-18",1.21],["2021-06-20",0.85],["2021-06-22",0.55],["2021-06-24",1.00],["2021-06-26",0.70],["2021-06-28",0.22],["2021-06-30",0.80],
  ["2021-07-02",0.65],["2021-07-04",1.05],["2021-07-06",0.43],["2021-07-08",0.75],["2021-07-10",0.90],["2021-07-12",0.60],["2021-07-14",1.40],["2021-07-15",1.18],["2021-07-16",1.00],["2021-07-18",0.70],["2021-07-20",0.45],["2021-07-22",0.27],["2021-07-24",0.15],["2021-07-26",0.05],["2021-07-28",0.12],
  ["2021-08-01",0.08],["2021-08-04",0.20],["2021-08-07",0.10],["2021-08-10",0.15],["2021-08-13",0.05],["2021-08-16",0.22],["2021-08-20",0.64],["2021-08-21",0.30],["2021-08-23",0.49],["2021-08-25",0.15],["2021-08-27",0.40],["2021-08-29",0.25],
  ["2021-09-01",0.45],["2021-09-03",0.20],["2021-09-05",0.36],["2021-09-07",0.30],["2021-09-09",0.15],["2021-09-12",0.36],
  ["2020-07-31",0.15],["2020-08-04",0.20],["2020-08-06",0.12],["2020-08-08",0.30],["2020-08-10",0.20],["2020-08-12",0.15],["2020-08-14",0.25],["2020-08-16",0.12],["2020-08-18",0.30],["2020-08-20",0.15],["2020-08-23",0.20],["2020-08-26",0.30],["2020-08-29",0.15],
  ["2020-09-01",0.20],["2020-09-03",0.35],["2020-09-06",0.40],["2020-09-08",0.30],["2020-09-10",0.45],["2020-09-12",0.30],["2020-09-14",0.40],["2020-09-16",0.25],["2020-09-18",0.35],["2020-09-20",0.45],["2020-09-22",0.30],["2020-09-24",0.40],["2020-09-27",0.45],["2020-09-29",0.30],
  ["2020-10-01",0.35],["2020-10-03",0.40],["2020-10-05",0.25],["2020-10-07",0.45],["2020-10-09",0.35],["2020-10-11",0.30],["2020-10-13",0.40],["2020-10-15",0.45],["2020-10-17",0.30],["2020-10-19",0.40],["2020-10-21",0.45],["2020-10-23",0.35],["2020-10-25",0.50],["2020-10-27",0.55],["2020-10-29",0.45],["2020-10-31",0.55],
  ["2020-11-03",0.45],["2020-11-07",0.55],["2020-11-09",0.45],["2020-11-11",0.30],["2020-11-13",0.35],["2020-11-15",0.25],["2020-11-17",0.35],["2020-11-19",0.25],["2020-11-21",0.30],["2020-11-24",0.20],["2020-11-27",0.25],
  ["2020-12-01",0.20],["2020-12-03",0.30],["2020-12-06",0.15],["2020-12-10",0.25],["2020-12-13",0.30],["2020-12-18",0.25],["2020-12-21",0.20],["2020-12-24",0.15],["2020-12-27",0.25],["2020-12-30",0.12],
  ["2021-01-02",0.15],["2021-01-05",0.20],["2021-01-08",0.10],["2021-01-11",0.18],["2021-01-14",0.12],["2021-01-17",0.22],["2021-01-20",0.12],["2021-01-23",0.08],["2021-01-26",0.15],["2021-01-29",0.10],
  ["2021-02-01",0.12],["2021-02-04",0.08],["2021-02-07",0.12],["2021-02-10",0.18],["2021-02-13",0.10],["2021-02-16",0.15],["2021-02-19",0.20],["2021-02-22",0.15],["2021-02-25",0.20],["2021-02-28",0.25],
  ["2021-03-03",0.15],["2021-03-06",0.30],["2021-03-09",0.20],["2021-03-12",0.25],["2021-03-15",0.30],["2021-03-18",0.20],["2021-03-21",0.30],["2021-03-24",0.25],["2021-03-27",0.30],["2021-03-30",0.20],
  ["2021-04-02",0.30],["2021-04-05",0.25],["2021-04-08",0.35],["2021-04-11",0.25],["2021-04-14",0.20],["2021-04-17",0.30],["2021-04-22",0.35],["2021-04-25",0.25],["2021-04-28",0.40],["2021-04-30",0.45],
  ["2021-05-02",0.55],["2021-05-04",0.65],["2021-05-06",0.55],["2021-05-08",0.65],["2021-05-10",0.75],["2021-05-13",0.80],["2021-05-16",0.95],["2021-05-18",0.85],["2021-05-20",1.05],["2021-05-22",0.80],["2021-05-24",0.90],["2021-05-26",0.75],["2021-05-28",1.20],["2021-05-30",1.30],
  ["2021-06-02",1.20],["2021-06-05",1.10],["2021-06-07",1.00],["2021-06-09",0.85],["2021-06-11",1.05],["2021-06-13",0.90],["2021-06-15",0.80],["2021-06-17",1.00],["2021-06-19",0.70],["2021-06-21",0.95],["2021-06-23",0.80],["2021-06-25",0.65],["2021-06-27",0.85],["2021-06-29",0.75],
  ["2021-07-01",0.70],["2021-07-03",0.85],["2021-07-05",0.60],["2021-07-07",0.95],["2021-07-09",0.70],["2021-07-11",0.80],["2021-07-13",1.20],["2021-07-17",0.85],["2021-07-19",0.60],["2021-07-21",0.35],["2021-07-23",0.10],["2021-07-25",0.08],["2021-07-27",0.10],["2021-07-30",0.15],
  ["2021-08-02",0.10],["2021-08-05",0.12],["2021-08-08",0.15],["2021-08-11",0.08],["2021-08-14",0.12],["2021-08-18",0.20],["2021-08-22",0.35],["2021-08-24",0.25],["2021-08-26",0.30],["2021-08-28",0.20],["2021-08-30",0.35],
  ["2021-09-02",0.30],["2021-09-04",0.25],["2021-09-06",0.20],["2021-09-08",0.35],["2021-09-10",0.25],
];

// ---------------- STYLE / LAYOUT ----------------
const POINT_COLOR = "#0000FF";
const GUIDE_STYLES = [
  { color: "#00FF00", width: 2.8, dash: [] as number[] },
  { color: "#00FF00", width: 2.8, dash: [10.8, 10.8] },
  { color: "#5E5E5E", width: 2.3, dash: [] as number[] },
];

type PanelSpec = {
  obs: [string, number][];
  title: string;
  canvas: { left: number; top: number; w: number; h: number };
  pad: { left: number; right: number; top: number; bottom: number };
  yW: number;
  xH: number;
  showY: boolean;
  showX: boolean;
  strip: { left: number; top: number; w: number; h: number };
};

const PANELS: PanelSpec[] = [
  { obs: northCompObs, title: panelTitles[0], canvas: { left: 0, top: 45, w: 690, h: 300 }, pad: { left: 0, right: 2.2, top: 2.2, bottom: 3.5 }, yW: 69, xH: 0, showY: true, showX: false, strip: { left: 68.1, top: 6.4, w: 620.6, h: 41.7 } },
  { obs: northGrabObs, title: panelTitles[1], canvas: { left: 700, top: 45, w: 625, h: 300 }, pad: { left: 2.8, right: 2.7, top: 2.2, bottom: 3.5 }, yW: 0, xH: 0, showY: false, showX: false, strip: { left: 701.9, top: 6.4, w: 621.3, h: 41.7 } },
  { obs: southCompObs, title: panelTitles[2], canvas: { left: 0, top: 395, w: 690, h: 345 }, pad: { left: 0, right: 2.2, top: 2.8, bottom: 0 }, yW: 69, xH: 48.3, showY: true, showX: true, strip: { left: 68.1, top: 355.9, w: 620.6, h: 42.8 } },
  { obs: southGrabObs, title: panelTitles[3], canvas: { left: 700, top: 395, w: 625, h: 345 }, pad: { left: 2.8, right: 2.7, top: 2.8, bottom: 0 }, yW: 0, xH: 48.3, showY: false, showX: true, strip: { left: 701.9, top: 355.9, w: 621.3, h: 42.8 } },
];

const panelBorderPlugin = {
  id: "panelBorder",
  afterDraw(chart: any) {
    const { ctx, chartArea: a } = chart;
    ctx.save();
    ctx.strokeStyle = "#333333";
    ctx.lineWidth = 1.8;
    ctx.strokeRect(a.left, a.top, a.right - a.left, a.bottom - a.top);
    ctx.restore();
  },
};

function Panel({ spec }: { spec: PanelSpec }) {
  const ref = useRef<HTMLCanvasElement>(null);
  useEffect(() => {
    if (!ref.current) return;
    const xMin = Date.parse(xAxisRange[0]);
    const xMax = Date.parse(xAxisRange[1]);
    const points = spec.obs.map(([d, v]) => ({ x: Date.parse(d), y: v }));
    const xTicks = [
      ...xMajorTicks.map((d, i) => ({ value: Date.parse(d), lbl: xMajorLabels[i], minor: false })),
      ...xMinorTicks.map((d) => ({ value: Date.parse(d), lbl: "", minor: true })),
    ].sort((a, b) => a.value - b.value);
    const yTicks = [
      ...yMajorTicks.map((v, i) => ({ value: v, lbl: yMajorLabels[i], minor: false })),
      ...yMinorTicks.map((v) => ({ value: v, lbl: "", minor: true })),
    ].sort((a, b) => a.value - b.value);

    const guideSets = guideValues.map((g, i) => ({
      type: "line" as const,
      label: guideLabels[i],
      data: [
        { x: xMin, y: g },
        { x: xMax, y: g },
      ],
      borderColor: GUIDE_STYLES[i].color,
      borderWidth: GUIDE_STYLES[i].width,
      borderDash: GUIDE_STYLES[i].dash,
      pointRadius: 0,
      showLine: true,
      fill: false,
      clip: 0,
      order: 0,
    }));

    const tickFont = { family: FONT, size: 23 };

    const chart = new Chart(ref.current, {
      type: "scatter",
      data: {
        datasets: [
          ...guideSets,
          {
            type: "scatter" as const,
            label: "obs",
            data: points,
            backgroundColor: POINT_COLOR,
            borderWidth: 0,
            pointRadius: 4.6,
            pointHoverRadius: 4.6,
            clip: 0,
            order: 1,
          },
        ] as any,
      },
      options: {
        animation: false,
        responsive: false,
        maintainAspectRatio: false,
        events: [],
        layout: { padding: spec.pad },
        plugins: { legend: { display: false }, tooltip: { enabled: false }, title: { display: false } },
        scales: {
          x: {
            type: "linear",
            position: "bottom",
            bounds: "data",
            min: xMin,
            max: xMax,
            afterBuildTicks: (s: any) => {
              s.ticks = xTicks.map((t) => ({ ...t }));
            },
            afterFit: (s: any) => {
              s.height = spec.xH;
              s.paddingLeft = 0;
              s.paddingRight = 0;
            },
            ticks: {
              display: spec.showX,
              autoSkip: false,
              maxRotation: 0,
              minRotation: 0,
              padding: 3.6,
              color: "#4D4D4D",
              font: tickFont,
              callback: (_v: any, i: number, ticks: any[]) => (ticks[i] && ticks[i].lbl) || "",
            },
            grid: {
              color: "#EBEBEB",
              lineWidth: (c: any) => (c.tick && c.tick.minor ? 0.8 : 1.6),
              drawTicks: spec.showX,
              tickLength: 7,
              tickWidth: 1.7,
              tickColor: (c: any) => (c.tick && c.tick.minor ? "rgba(0,0,0,0)" : "#333333"),
            },
            border: { display: false },
          },
          y: {
            type: "linear",
            position: "left",
            bounds: "data",
            min: yAxisRange[0],
            max: yAxisRange[1],
            afterBuildTicks: (s: any) => {
              s.ticks = yTicks.map((t) => ({ ...t }));
            },
            afterFit: (s: any) => {
              s.width = spec.yW;
              s.paddingTop = 0;
              s.paddingBottom = 0;
            },
            ticks: {
              display: spec.showY,
              autoSkip: false,
              padding: 8.4,
              color: "#4D4D4D",
              font: tickFont,
              callback: (_v: any, i: number, ticks: any[]) => (ticks[i] && ticks[i].lbl) || "",
            },
            grid: {
              color: "#EBEBEB",
              lineWidth: (c: any) => (c.tick && c.tick.minor ? 0.8 : 1.6),
              drawTicks: spec.showY,
              tickLength: 7,
              tickWidth: 1.7,
              tickColor: (c: any) => (c.tick && c.tick.minor ? "rgba(0,0,0,0)" : "#333333"),
            },
            border: { display: false },
          },
        },
      } as any,
      plugins: [panelBorderPlugin],
    });
    return () => chart.destroy();
  }, [spec]);

  const c = spec.canvas;
  const s = spec.strip;
  return (
    <>
      <div
        style={{
          position: "absolute",
          left: s.left,
          top: s.top,
          width: s.w,
          height: s.h,
          boxSizing: "border-box",
          border: "1.8px solid #333333",
          background: "#D9D9D9",
          display: "flex",
          alignItems: "center",
          justifyContent: "center",
          fontFamily: FONT,
          fontSize: 18.5,
          color: "#1A1A1A",
          whiteSpace: "nowrap",
        }}
      >
        {spec.title}
      </div>
      <canvas
        ref={ref}
        width={c.w}
        height={c.h}
        style={{ position: "absolute", left: c.left, top: c.top, width: c.w, height: c.h }}
      />
    </>
  );
}

const LEGEND_KEYS = [
  { keyLeft: 208.3, textLeft: 259.8 },
  { keyLeft: 590, textLeft: 650 },
  { keyLeft: 970.7, textLeft: 1038.5 },
];

function LegendKey({ idx, left }: { idx: number; left: number }) {
  const st = GUIDE_STYLES[idx];
  const inner: React.ReactNode[] = [];
  if (st.dash.length === 0) {
    inner.push(
      <div key="l" style={{ position: "absolute", left: 5, top: 23.35 - st.width / 2, width: 37.4, height: st.width, background: st.color }} />
    );
  } else {
    inner.push(<div key="d1" style={{ position: "absolute", left: 4.7, top: 23.35 - st.width / 2, width: 11.7, height: st.width, background: st.color }} />);
    inner.push(<div key="d2" style={{ position: "absolute", left: 27, top: 23.35 - st.width / 2, width: 12.3, height: st.width, background: st.color }} />);
  }
  return (
    <div style={{ position: "absolute", left, top: 806.7, width: 46.7, height: 46.7, background: "#FFFFFF" }}>{inner}</div>
  );
}

export default function App() {
  const legendFont = 21.2;
  const titleFont = 27;
  return (
    <div style={{ position: "absolute", left: 0, top: 0, width: 1328, height: 867, overflow: "hidden", background: "#FFFFFF" }}>
      {PANELS.map((p, i) => (
        <Panel key={i} spec={p} />
      ))}
      <div
        style={{
          position: "absolute",
          left: 20,
          top: 369.5,
          transform: "translate(-50%, -50%) rotate(-90deg)",
          fontFamily: FONT,
          fontSize: titleFont,
          lineHeight: `${titleFont * 1.2}px`,
          color: "#000000",
          whiteSpace: "nowrap",
        }}
      >
        mg/L
      </div>
      <div
        style={{
          position: "absolute",
          left: 695.6 - 200,
          width: 400,
          top: 746.7 - 0.5885 * titleFont,
          textAlign: "center",
          fontFamily: FONT,
          fontSize: titleFont,
          lineHeight: `${titleFont * 1.2}px`,
          color: "#000000",
        }}
      >
        Year
      </div>
      <div style={{ position: "absolute", left: 174, top: 791.7, width: 1044.3, height: 77, background: "#E5E5E5" }} />
      {guideLabels.map((lab, i) => (
        <React.Fragment key={lab}>
          <LegendKey idx={i} left={LEGEND_KEYS[i].keyLeft} />
          <div
            style={{
              position: "absolute",
              left: LEGEND_KEYS[i].textLeft,
              top: 830 - 0.5885 * legendFont,
              fontFamily: FONT,
              fontSize: legendFont,
              lineHeight: `${legendFont * 1.2}px`,
              color: "#000000",
              whiteSpace: "nowrap",
            }}
          >
            {lab}
          </div>
        </React.Fragment>
      ))}
    </div>
  );
}
